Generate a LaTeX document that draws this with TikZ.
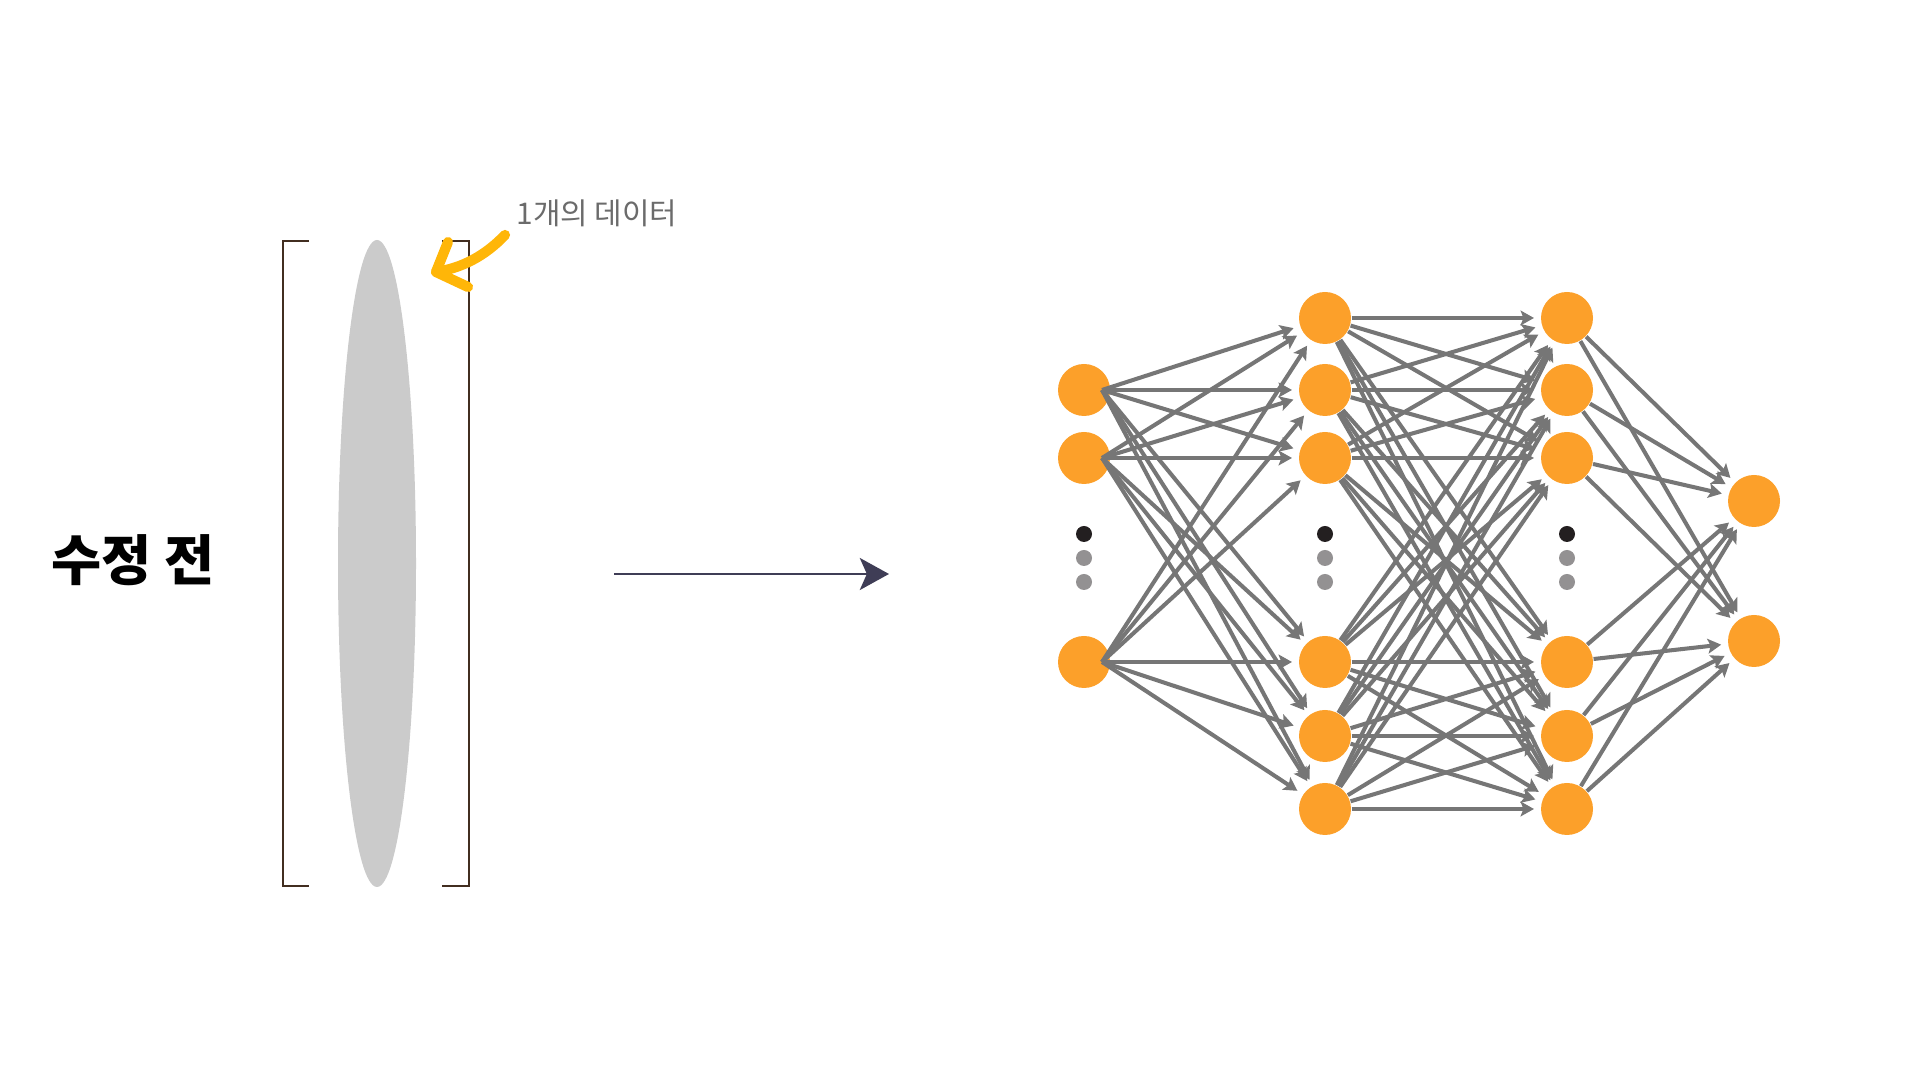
\documentclass[tikz,border=0pt]{standalone}
\usepackage{fontspec}
\usepackage{tikz}
\usetikzlibrary{arrows.meta}
\newfontfamily\kr{Noto Sans CJK KR}

\definecolor{neuronorange}{RGB}{252,160,42}
\definecolor{edgegray}{RGB}{118,118,118}
\definecolor{dotgray}{RGB}{147,145,146}
\definecolor{dotblack}{RGB}{35,31,32}
\definecolor{navy}{RGB}{63,61,86}
\definecolor{bracketbrown}{RGB}{66,46,32}
\definecolor{datagray}{RGB}{203,203,203}
\definecolor{pointer}{RGB}{255,182,8}

\tikzset{
    neuron/.style={circle, fill=neuronorange, inner sep=0pt, minimum size=0.52cm},
    dotnode/.style={circle, inner sep=0pt, minimum size=0.16cm},
    edge/.style={-{Stealth[length=3.8pt, width=4.2pt, inset=0.8pt]}, edgegray, line width=1.15pt, shorten >=1.8pt}
}

\begin{document}
\begin{tikzpicture}
        \useasboundingbox (0,0) rectangle (19.2,10.8);

        % Label on the left
        \node (title) at (1.33,5.2) {\kr\fontsize{15.5}{18}\selectfont\bfseries 수정 전};

        % One sample: the grey ellipse between brackets
        \fill[datagray] (3.77,5.165) ellipse (0.39 and 3.235);
        \draw[bracketbrown, line width=0.55pt] (3.09,8.39) -- (2.83,8.39) -- (2.83,1.94) -- (3.09,1.94);
        \draw[bracketbrown, line width=0.55pt] (4.42,8.39) -- (4.69,8.39) -- (4.69,1.94) -- (4.42,1.94);

        % Pointer to the sample
        \node[text=black!58] (sample) at (5.97,8.67) {\kr\fontsize{8.5}{10}\selectfont 1개의 데이터};
        \coordinate (ptrS) at (5.05,8.45);
        \coordinate (ptrT) at (4.36,8.08);
        \draw[pointer, line width=2.9pt, line cap=round] (ptrS) .. controls (4.85,8.24) and (4.62,8.12) .. (ptrT);
        \draw[pointer, line width=2.9pt, line cap=round, line join=round] (4.48,8.38) -- (ptrT) -- (4.68,7.93);

        % Arrow to the network
        \coordinate (arrS) at (6.14,5.06);
        \coordinate (arrE) at (8.89,5.06);
        \draw[-{Stealth[length=8.3pt, width=9.1pt, inset=2pt]}, navy, line width=0.8pt] (arrS) -- (arrE);

        % Layers
        \foreach \y [count=\i] in {6.90,6.22,4.18}
            \node[neuron] (a\i) at (10.84,\y) {};
        \foreach \y [count=\i] in {7.62,6.90,6.22,4.18,3.44,2.71} {
            \node[neuron] (b\i) at (13.25,\y) {};
            \node[neuron] (c\i) at (15.67,\y) {};
        }
        \foreach \y [count=\i] in {5.79,4.39}
            \node[neuron] (d\i) at (17.54,\y) {};

        % Vertical dots
        \foreach \x [count=\k] in {10.84,13.25,15.67} {
            \node[dotnode, fill=dotblack] (dotA\k) at (\x,5.46) {};
            \node[dotnode, fill=dotgray] (dotB\k) at (\x,5.22) {};
            \node[dotnode, fill=dotgray] (dotC\k) at (\x,4.98) {};
        }

        % Connections
        \foreach \i in {1,...,3}
            \foreach \j in {1,...,6}
                \draw[edge] ([xshift=1.8mm]a\i.center) -- (b\j);
        \foreach \i in {1,...,6}
            \foreach \j in {1,...,6}
                \draw[edge] (b\i) -- (c\j);
        \foreach \i in {1,...,6}
            \foreach \j in {1,2}
                \draw[edge] (c\i) -- (d\j);

    \end{tikzpicture}
\end{document}
